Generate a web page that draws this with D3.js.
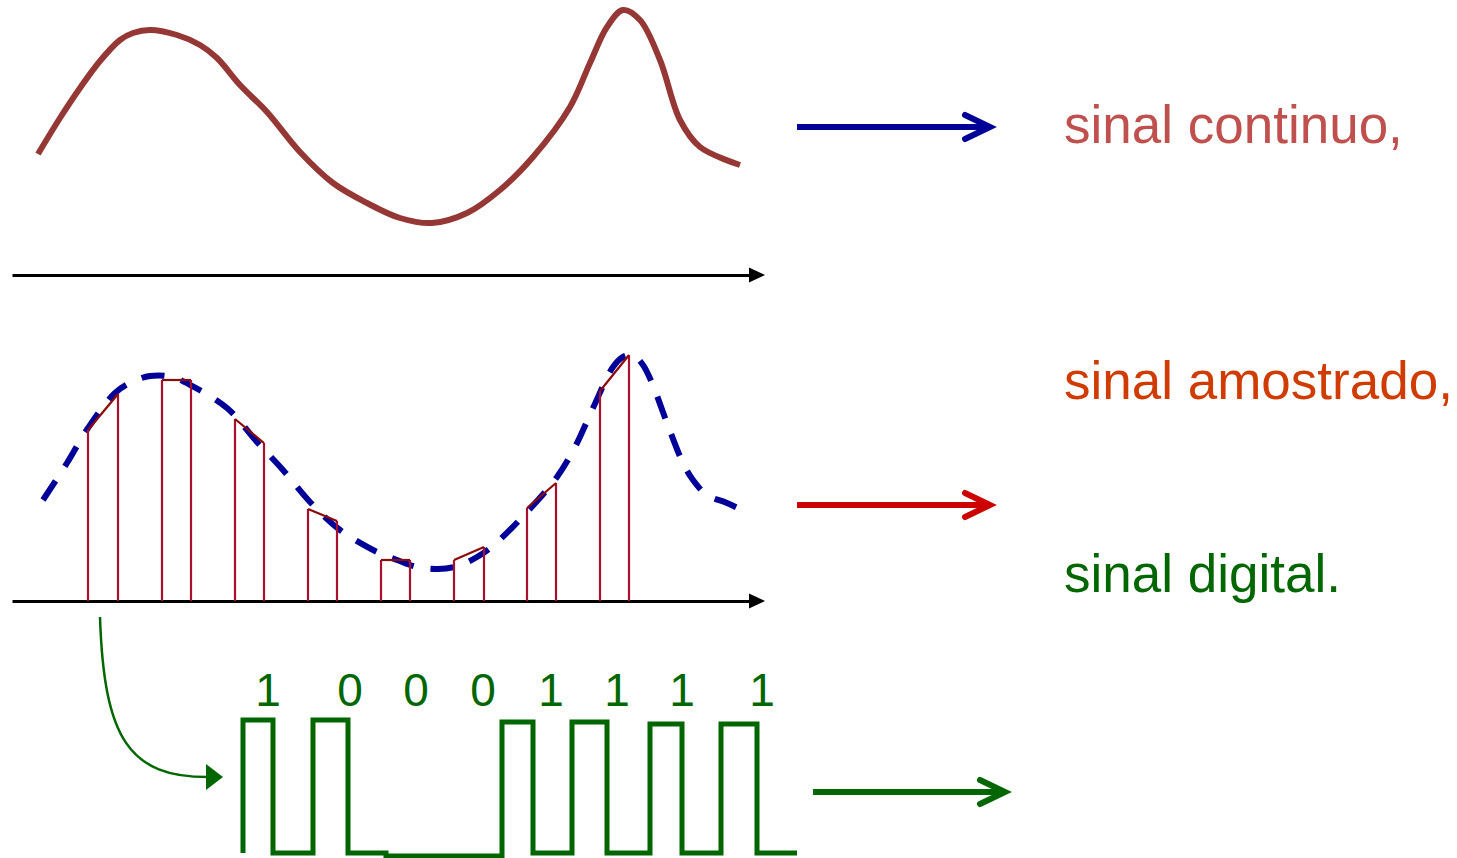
<!DOCTYPE html>
<html>
<head>
<meta charset="utf-8">
<script src="https://cdn.jsdelivr.net/npm/d3@7"></script>
<style>
html,body{margin:0;padding:0;background:#fff;}
svg{display:block;}
</style>
</head>
<body>
<svg id="chart" width="1457" height="858"></svg>
<script>
// ---------------- DATA ----------------
// continuous signal: time (t) and amplitude (a) above the time axis
const continuousT = [28, 50, 70, 90, 110, 123, 140, 167, 190, 207, 230, 257, 290, 323, 357, 390, 422, 457, 490, 523, 560, 580, 597, 613, 630, 650, 670, 690, 730];
const continuousA = [121, 157, 187, 214, 235, 242, 245, 240, 230, 217, 190, 163, 123, 92, 72, 57, 52, 62, 85, 118, 168, 212, 248, 265, 255, 215, 155, 128, 110];

// sampled signal (dashed envelope)
const envelopeT = [33, 57, 78, 105, 122, 140, 162, 182, 217, 247, 273, 300, 330, 367, 387, 407, 428, 448, 467, 485, 517, 547, 565, 583, 603, 613, 623, 633, 642, 657, 673, 683, 697, 717, 738];
const envelopeA = [101, 138, 173, 208, 219, 225, 224, 215, 193, 159, 131, 99, 71, 49, 41, 34, 32, 35, 44, 57, 89, 124, 154, 193, 234, 244, 246, 236, 218, 178, 138, 121, 106, 98, 88];

// samples: left and right stems of each sample
const sampleLeftT  = [78, 152, 225, 298, 371, 444, 517, 590];
const sampleLeftA  = [171, 221, 182, 92, 41, 41, 93, 210];
const sampleRightT = [108, 181, 254, 327, 400, 474, 546, 619];
const sampleRightA = [207, 221, 158, 80, 41, 54, 118, 246];

// digital signal
const bits = ["1", "0", "0", "0", "1", "1", "1", "1"];
const bitT = [258, 340, 406, 473, 541, 607, 672, 752];
const pulseT     = [233, 233, 263, 263, 303, 303, 338, 338, 376, 376, 492, 492, 523, 523, 562, 562, 597, 597, 640, 640, 672, 672, 711, 711, 747, 747, 787];
const pulseLevel = [0, 1, 1, 0, 0, 1, 1, 0, 0, -0.022, -0.022, 0.985, 0.985, 0, 0, 0.985, 0.985, 0, 0, 0.97, 0.97, 0, 0, 0.97, 0.97, 0, 0];

const labels = ["sinal continuo,", "sinal amostrado,", "sinal digital."];

// ---------------- DRAWING ----------------
const svg = d3.select("#chart");
const FONT = "'Liberation Sans', Arial, Helvetica, sans-serif";

const x = d3.scaleLinear().domain([0, 755]).range([10, 765]);
const yTop = d3.scaleLinear().domain([0, 265]).range([275, 10]);
const yMid = d3.scaleLinear().domain([0, 265]).range([601, 336]);
const yDig = d3.scaleLinear().domain([0, 1]).range([853, 720]);

// time axes (no ticks) with arrowheads
function timeAxis(y0) {
  const ax = d3.scaleLinear().domain([0, 1]).range([12, 752]);
  const g = svg.append("g").attr("transform", `translate(0,${y0})`)
    .call(d3.axisBottom(ax).tickValues([]).tickSizeOuter(0));
  g.select(".domain").attr("stroke", "#000").attr("stroke-width", 3);
  svg.append("path")
    .attr("d", `M749,${y0 - 7.5}L765,${y0}L749,${y0 + 7.5}Z`)
    .attr("fill", "#000");
}
timeAxis(275);
timeAxis(601);

// continuous signal
const contLine = d3.line()
  .x((d, i) => x(continuousT[i]))
  .y((d, i) => yTop(continuousA[i]))
  .curve(d3.curveCatmullRom.alpha(0.5));
svg.append("path")
  .attr("d", contLine(continuousT))
  .attr("fill", "none")
  .attr("stroke", "#953735")
  .attr("stroke-width", 6)
  .attr("stroke-linecap", "butt");

// dashed envelope
const envLine = d3.line()
  .x((d, i) => x(envelopeT[i]))
  .y((d, i) => yMid(envelopeA[i]))
  .curve(d3.curveCatmullRom.alpha(0.5));
svg.append("path")
  .attr("d", envLine(envelopeT))
  .attr("fill", "none")
  .attr("stroke", "#000099")
  .attr("stroke-width", 6)
  .attr("stroke-dasharray", "23,17");

// sample stems
const samples = sampleLeftT.map((t, i) => ({
  t0: t, a0: sampleLeftA[i], t1: sampleRightT[i], a1: sampleRightA[i]
}));
const sg = svg.append("g");
sg.selectAll("line.l").data(samples).join("line")
  .attr("x1", d => x(d.t0)).attr("x2", d => x(d.t0))
  .attr("y1", yMid(0)).attr("y2", d => yMid(d.a0))
  .attr("stroke", "#a8102e").attr("stroke-width", 2.2);
sg.selectAll("line.r").data(samples).join("line")
  .attr("x1", d => x(d.t1)).attr("x2", d => x(d.t1))
  .attr("y1", yMid(0)).attr("y2", d => yMid(d.a1))
  .attr("stroke", "#a8102e").attr("stroke-width", 2.2);
sg.selectAll("line.top").data(samples).join("line")
  .attr("x1", d => x(d.t0)).attr("x2", d => x(d.t1))
  .attr("y1", d => yMid(d.a0)).attr("y2", d => yMid(d.a1))
  .attr("stroke", "#8b0a0a").attr("stroke-width", 2.2);

// digital waveform
const pulseLine = d3.line()
  .x((d, i) => x(pulseT[i]))
  .y((d, i) => yDig(pulseLevel[i]));
svg.append("path")
  .attr("d", pulseLine(pulseT))
  .attr("fill", "none")
  .attr("stroke", "#006600")
  .attr("stroke-width", 5)
  .attr("stroke-linejoin", "miter")
  .attr("stroke-linecap", "butt");

// bit labels
svg.append("g").selectAll("text").data(bits).join("text")
  .attr("x", (d, i) => x(bitT[i]))
  .attr("y", 706)
  .attr("text-anchor", "middle")
  .attr("font-family", FONT)
  .attr("font-size", 46)
  .attr("fill", "#006600")
  .text(d => d);

// curved arrow from sampled signal to digital signal
svg.append("path")
  .attr("d", "M100,617C104,740 130,777 208,777")
  .attr("fill", "none")
  .attr("stroke", "#006600")
  .attr("stroke-width", 2.5);
svg.append("path")
  .attr("d", "M206,764L223,777L206,790Z")
  .attr("fill", "#006600");

// right-pointing arrows
function arrow(x0, x1, y0, color) {
  svg.append("line")
    .attr("x1", x0).attr("x2", x1 - 3).attr("y1", y0).attr("y2", y0)
    .attr("stroke", color).attr("stroke-width", 6);
  svg.append("path")
    .attr("d", `M${x1 - 25},${y0 - 12}L${x1},${y0}L${x1 - 25},${y0 + 12}`)
    .attr("fill", "none")
    .attr("stroke", color)
    .attr("stroke-width", 6)
    .attr("stroke-linecap", "round")
    .attr("stroke-linejoin", "miter");
}
arrow(797, 990, 127, "#000099");
arrow(797, 990, 505, "#cc0000");
arrow(813, 1005, 792, "#006600");

// text labels
const labelColors = ["#c0504d", "#d03c00", "#006600"];
const labelY = [143, 399, 592];
svg.append("g").selectAll("text").data(labels).join("text")
  .attr("x", 1064)
  .attr("y", (d, i) => labelY[i])
  .attr("font-family", FONT)
  .attr("font-size", 53)
  .attr("fill", (d, i) => labelColors[i])
  .text(d => d);
</script>
</body>
</html>
